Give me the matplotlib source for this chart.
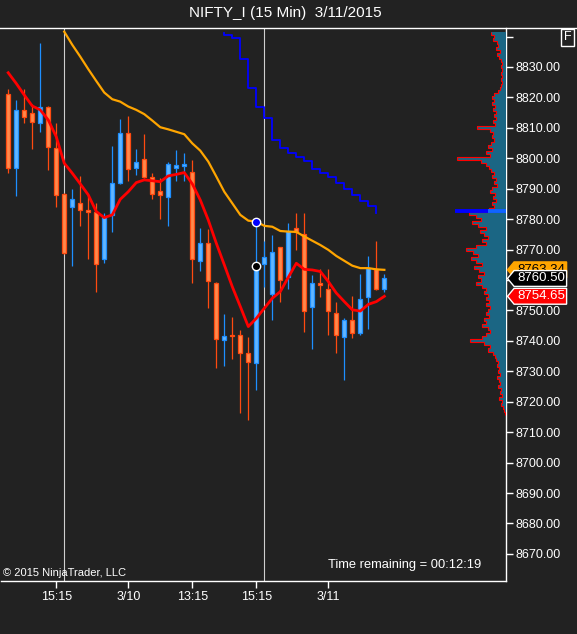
import matplotlib
matplotlib.use("Agg")
import matplotlib.pyplot as plt
import matplotlib.transforms as mtransforms
from matplotlib.patches import Polygon
from matplotlib.lines import Line2D
import numpy as np

plt.rcParams["font.family"] = ["Liberation Sans", "DejaVu Sans"]

TITLE = "NIFTY_I (15 Min)  3/11/2015"

# 15-min bars, oldest first
opens = [8821.0, 8796.7, 8815.9, 8814.8, 8811.5, 8816.8, 8803.3, 8788.2, 8784.1, 8785.2,
         8783.0, 8782.5, 8766.8, 8781.4, 8791.8, 8808.2, 8796.7, 8799.7, 8793.8, 8789.4,
         8787.2, 8796.7, 8797.6, 8795.6, 8766.4, 8772.1, 8758.9, 8740.3, 8741.9, 8741.9,
         8735.9, 8732.7, 8765.3, 8755.3, 8770.7, 8760.9, 8777.2, 8775.0, 8751.1, 8758.9,
         8757.0, 8749.3, 8741.4, 8746.7, 8742.5, 8754.5, 8763.5, 8757.0]
highs = [8822.7, 8819.2, 8822.7, 8817.8, 8837.8, 8817.2, 8811.5, 8788.5, 8789.9, 8794.3,
         8787.9, 8785.2, 8782.1, 8804.0, 8812.8, 8813.9, 8803.1, 8808.0, 8795.1, 8793.4,
         8798.9, 8802.7, 8801.6, 8799.4, 8777.0, 8776.7, 8759.5, 8748.9, 8747.8, 8743.6,
         8741.4, 8779.2, 8772.9, 8774.8, 8771.0, 8778.7, 8781.9, 8781.9, 8761.6, 8763.5,
         8763.7, 8752.8, 8747.4, 8754.8, 8762.0, 8767.9, 8772.9, 8762.0]
lows = [8795.3, 8787.7, 8811.7, 8803.0, 8808.7, 8796.0, 8783.9, 8768.5, 8764.7, 8777.9,
        8766.9, 8755.9, 8765.7, 8775.9, 8791.5, 8792.6, 8794.5, 8793.5, 8786.6, 8780.0,
        8777.9, 8792.6, 8792.6, 8758.9, 8762.8, 8750.9, 8731.0, 8731.9, 8734.0, 8716.2,
        8714.0, 8723.7, 8757.8, 8746.7, 8752.9, 8757.0, 8769.7, 8742.8, 8737.3, 8754.3,
        8741.9, 8735.9, 8727.2, 8740.9, 8742.0, 8743.8, 8756.7, 8755.9]
closes = [8796.7, 8815.9, 8813.7, 8812.0, 8817.0, 8803.6, 8787.9, 8768.8, 8786.5, 8783.0,
          8782.5, 8765.2, 8780.6, 8791.8, 8808.2, 8796.4, 8798.7, 8793.8, 8788.2, 8788.0,
          8798.0, 8797.8, 8798.1, 8766.8, 8772.1, 8759.8, 8740.5, 8741.6, 8741.7, 8735.9,
          8733.0, 8764.6, 8767.5, 8769.3, 8760.0, 8776.2, 8775.7, 8749.8, 8759.1, 8758.2,
          8749.8, 8742.0, 8746.7, 8742.7, 8753.9, 8763.9, 8757.0, 8760.5]

# slow average (orange), starts at bar 7
slow_start = 7
slow_ma = [8841.6, 8837.3, 8833.4, 8829.3, 8825.4, 8821.6, 8819.4, 8818.6, 8817.0, 8815.9,
           8814.5, 8812.4, 8810.2, 8809.5, 8808.7, 8807.9, 8804.9, 8802.5, 8798.9, 8794.0,
           8789.0, 8785.2, 8781.4, 8779.5, 8779.2, 8777.8, 8777.5, 8776.1, 8775.9, 8775.8,
           8774.3, 8772.9, 8771.5, 8769.9, 8767.9, 8766.3, 8764.7, 8763.9, 8763.9, 8763.5,
           8763.34]
# fast average (red)
fast_ma = [8828.1, 8824.6, 8820.8, 8817.2, 8815.9, 8812.6, 8807.1, 8798.4, 8795.1, 8791.6,
           8788.0, 8782.5, 8780.5, 8781.4, 8786.5, 8789.0, 8792.0, 8792.9, 8792.6, 8792.3,
           8794.2, 8794.7, 8795.3, 8791.6, 8786.3, 8779.7, 8772.1, 8765.0, 8757.8, 8751.3,
           8744.7, 8747.4, 8750.7, 8754.0, 8756.2, 8760.9, 8765.5, 8763.5, 8763.3, 8762.8,
           8759.5, 8755.7, 8752.9, 8750.2, 8749.8, 8752.0, 8752.9, 8754.65]
# stepped trailing stop (blue), starts at bar 27
stop_start = 27
stop_vals = [8841.3, 8840.5, 8839.4, 8832.5, 8823.0, 8816.8, 8813.1, 8806.0, 8803.3, 8801.6,
             8800.3, 8799.2, 8796.4, 8795.3, 8794.0, 8791.8, 8789.8, 8788.0, 8786.1, 8784.3,
             8782.1]

session_breaks = [7, 32]
signal_bar = 31

# volume profile, one value per price point from 8841 down to 8716
profile_top = 8841
profile = [15, 12, 13, 9, 8, 10, 6, 9, 7, 5,
           4, 5, 4, 5, 4, 5, 4, 5, 6, 8,
           12, 14, 12, 14, 11, 13, 10, 12, 10, 13,
           11, 29, 16, 13, 14, 12, 15, 18, 14, 20,
           16, 49, 25, 20, 17, 15, 12, 14, 10, 12,
           9, 14, 16, 11, 13, 10, 14, 12, 17, 37,
           30, 25, 34, 28, 20, 26, 22, 18, 24, 20,
           30, 40, 33, 28, 35, 30, 24, 32, 27, 22,
           28, 25, 30, 24, 20, 22, 18, 20, 17, 20,
           16, 18, 20, 17, 22, 20, 24, 18, 16, 20,
           24, 36, 22, 16, 18, 13, 11, 10, 8, 9,
           7, 8, 6, 9, 7, 6, 8, 5, 6, 4,
           7, 4, 5, 3, 2, 1]
poc_price = 8782.6
poc_len = 51

ytick_vals = [8670, 8680, 8690, 8700, 8710, 8720, 8730, 8740, 8750, 8760,
              8770, 8780, 8790, 8800, 8810, 8820, 8830, 8840]
xtick_pos = [6, 15, 23, 31, 40]
xtick_labels = ["15:15", "3/10", "13:15", "15:15", "3/11"]

BG = "#222222"
UP_FACE, UP_EDGE = "#62b6ff", "#1e8fff"
DN_FACE, DN_EDGE = "#ff8a4c", "#ff4a10"
W, H = 577, 634


def _tag(ax, value, text, face, edge, tcolor, z):
    tr = mtransforms.blended_transform_factory(ax.transAxes, ax.transData)
    h = 2.6
    pts = [(1.003, value), (1.016, value + h), (1.12, value + h),
           (1.12, value - h), (1.016, value - h)]
    ax.add_patch(Polygon(pts, closed=True, transform=tr, fc=face, ec=edge,
                         lw=1, clip_on=False, zorder=z))
    ax.text(1.022, value, text, transform=tr, ha="left", va="center",
            color=tcolor, fontsize=9.5, clip_on=False, zorder=z + 0.5)


def main():
    fig = plt.figure(figsize=(W / 100, H / 100), dpi=100, facecolor=BG)
    left, right, top, bottom = 1, 506, 28, 581
    ax = fig.add_axes([left / W, 1 - bottom / H, (right - left) / W, (bottom - top) / H])
    ax.set_facecolor(BG)

    n = len(closes)
    x = np.arange(n)
    o, hi, lo, c = map(np.array, (opens, highs, lows, closes))
    up = c >= o

    for b in session_breaks:
        ax.axvline(b, color="#cfcfcf", lw=0.8, zorder=1)

    ax.vlines(x[up], lo[up], hi[up], color=UP_EDGE, lw=0.9, zorder=2)
    ax.vlines(x[~up], lo[~up], hi[~up], color=DN_EDGE, lw=0.9, zorder=2)
    body_lo = np.minimum(o, c)
    body_h = np.maximum(np.abs(c - o), 0.25)
    ax.bar(x[up], body_h[up], bottom=body_lo[up], width=0.5,
           color=UP_FACE, edgecolor=UP_EDGE, linewidth=0.9, zorder=3)
    ax.bar(x[~up], body_h[~up], bottom=body_lo[~up], width=0.5,
           color=DN_FACE, edgecolor=DN_EDGE, linewidth=0.9, zorder=3)

    ax.plot(np.arange(slow_start, slow_start + len(slow_ma)), slow_ma,
            color="#ffa500", lw=1.6, zorder=4)
    ax.plot(x, fast_ma, color="#ff0000", lw=2.0, zorder=4)
    sx = np.concatenate(([stop_start], np.arange(stop_start, stop_start + len(stop_vals) - 1)))
    ax.step(sx, stop_vals, where="post", color="#0000ff", lw=1.3, zorder=4)

    ax.plot([signal_bar], [hi[signal_bar]], "o", ms=6, mfc="#0000ff", mec="white",
            mew=1, zorder=6)
    ax.plot([signal_bar], [c[signal_bar]], "o", ms=6, mfc="black", mec="white",
            mew=1, zorder=6)

    ax.set_xlim(-0.9, 62.2)
    ax.set_ylim(8661.1, 8842.8)
    ax.yaxis.tick_right()
    ax.set_yticks(ytick_vals)
    ax.set_yticklabels([f"{v:.2f}" if v != ytick_vals[-1] else "" for v in ytick_vals])
    ax.set_xticks(xtick_pos)
    ax.set_xticklabels(xtick_labels)
    ax.tick_params(colors="white", labelcolor="white", labelsize=9, length=5, width=1, pad=2)
    for s in ("left", "top"):
        ax.spines[s].set_visible(False)
    for s in ("right", "bottom"):
        ax.spines[s].set_color("white")
        ax.spines[s].set_linewidth(1)

    # volume profile hugging the price scale
    ax_p = fig.add_axes([(right - 60) / W, 1 - bottom / H, 60 / W, (bottom - top) / H])
    ax_p.patch.set_alpha(0)
    vals = np.array(profile[::-1], dtype=float)
    edges = profile_top - len(profile) + 0.5 + np.arange(len(profile) + 1)
    ax_p.stairs(vals, edges, orientation="horizontal", fill=True, color="#1b6684", zorder=1)
    ax_p.stairs(vals, edges, orientation="horizontal", baseline=None, color="#ff0000",
                lw=0.8, zorder=2)
    ax_p.hlines(poc_price, 0, poc_len, color="#0000ff", lw=2.8, zorder=3)
    ax_p.hlines(poc_price, 0, poc_len * 0.35, color="#1065ff", lw=2.8, zorder=3)
    ax_p.set_xlim(60, 0)
    ax_p.set_ylim(ax.get_ylim())
    ax_p.axis("off")

    _tag(ax, slow_ma[-1], f"{slow_ma[-1]:.2f}", "#ffa500", "#ffa500", "black", 7)
    _tag(ax, fast_ma[-1], f"{fast_ma[-1]:.2f}", "#ff0000", "white", "white", 7)
    _tag(ax, closes[-1], f"{closes[-1]:.2f}", "black", "white", "white", 8)

    ax.text(0.004, 0.006, "\u00a9 2015 NinjaTrader, LLC", transform=ax.transAxes,
            ha="left", va="bottom", color="white", fontsize=8)
    ax.text(0.95, 0.029, "Time remaining = 00:12:19", transform=ax.transAxes,
            ha="right", va="center", color="white", fontsize=9.3)

    fig.text(285 / W, 1 - 13 / H, TITLE, ha="center", va="center", color="white", fontsize=11)
    fig.add_artist(Line2D([0, 1], [1 - 27.5 / H] * 2, transform=fig.transFigure,
                          color="white", lw=1))
    fig.text(567.5 / W, 1 - 37 / H, "F", ha="center", va="center", color="white",
             fontsize=9, bbox=dict(boxstyle="square,pad=0.2", fc=BG, ec="white", lw=1))

    fig.savefig("out.png", dpi=100, facecolor=BG)
    plt.close(fig)


if __name__ == "__main__":
    main()
